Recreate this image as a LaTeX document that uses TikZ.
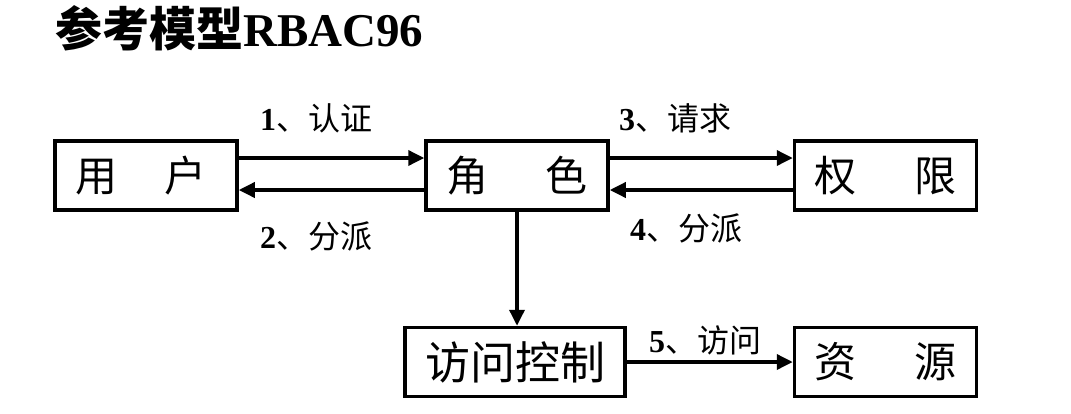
\documentclass[tikz,border=0pt]{standalone}
\usepackage{fontspec}
\setmainfont{Liberation Serif}
\newfontfamily\cjk{Noto Sans CJK SC}
\usetikzlibrary{arrows.meta}

\tikzset{
  box/.style={draw,line width=3.5pt,minimum width=182pt,minimum height=69pt,inner sep=0pt,
    font=\cjk\fontsize{42}{44}\selectfont},
  arr/.style={line width=3.5pt,-{Triangle[length=16pt,width=15pt]}},
  lbl/.style={inner sep=0pt,font=\fontsize{32}{34}\selectfont}
}
\newcommand{\spread}[2]{\makebox[142pt][s]{#1\hfill #2}}
\newcommand{\numlbl}[2]{\textbf{#1}{\cjk 、#2}}

\begin{document}
\begin{tikzpicture}[x=1pt,y=-1pt]
      \useasboundingbox (0,0) rectangle (1071,413);

      \node[anchor=west,inner sep=0pt] (title) at (55,28)
        {\fontsize{47}{49}\selectfont{\cjk\bfseries 参考模型}\textbf{RBAC96}};

      \node[box] (user) at (146,175.5) {\makebox[142pt][s]{用\hfill 户\hspace{10pt}}};
      \node[box] (role) at (517,175.5) {\spread{角}{色}};
      \node[box] (perm) at (885.5,175.5) {\spread{权}{限}};
      \node[box,minimum width=220pt,font=\cjk\fontsize{45}{47}\selectfont] (acl) at (515,362) {访问控制};
      \node[box] (res) at (885.5,362) {\spread{资}{源}};

      \draw[arr] ([yshift=17.5pt]user.east) -- ([yshift=17.5pt]role.west);
      \draw[arr] ([yshift=-14.5pt]role.west) -- ([yshift=-14.5pt]user.east);
      \draw[arr] ([yshift=17.5pt]role.east) -- ([yshift=17.5pt]perm.west);
      \draw[arr] ([yshift=-14.5pt]perm.west) -- ([yshift=-14.5pt]role.east);
      \draw[arr] (role.south) -- (role.south |- acl.north);
      \draw[arr] (acl.east) -- (res.west);

      \node[lbl] (auth) at (316,118) {\numlbl{1}{认证}};
      \node[lbl] (assign1) at (316,236) {\numlbl{2}{分派}};
      \node[lbl] (req) at (675,118) {\numlbl{3}{请求}};
      \node[lbl] (assign2) at (686,228) {\numlbl{4}{分派}};
      \node[lbl] (visit) at (705,340) {\numlbl{5}{访问}};

    \end{tikzpicture}
\end{document}
